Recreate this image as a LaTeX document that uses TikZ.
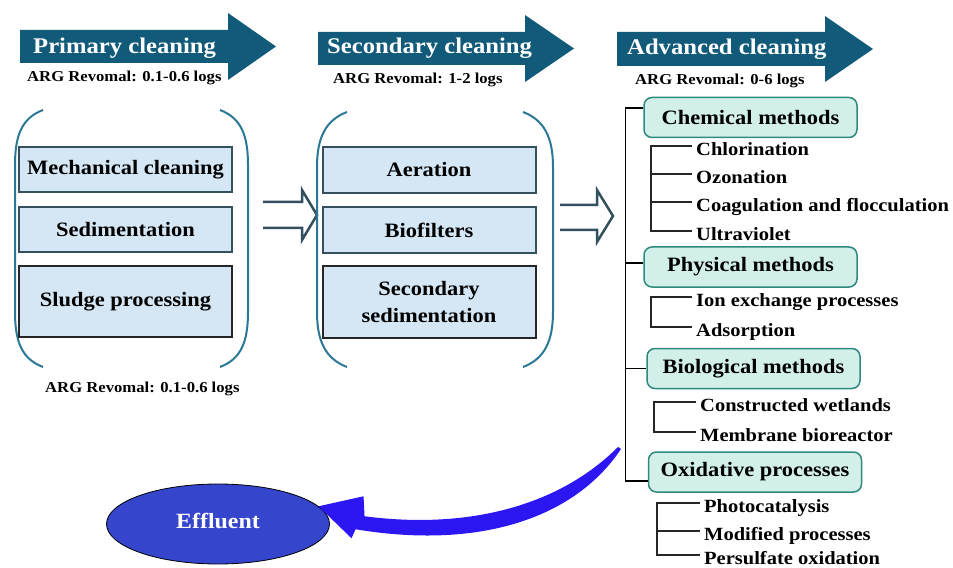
\documentclass[tikz,border=0pt]{standalone}
\usepackage{fontspec}
\setmainfont[FakeStretch=1.1]{Liberation Serif}
\usetikzlibrary{shapes.geometric,calc}
\definecolor{hdrblue}{HTML}{115A7A}
\definecolor{braceblue}{HTML}{2B7896}
\definecolor{boxfill}{HTML}{D5E7F5}
\definecolor{boxline}{HTML}{34505F}
\definecolor{methfill}{HTML}{D2EFEA}
\definecolor{methline}{HTML}{2E8A7C}
\definecolor{efffill}{HTML}{3545CC}
\definecolor{flowblue}{HTML}{2C16F2}
\newcommand{\fsz}[2]{\fontsize{#1}{#2}\selectfont\bfseries}

\begin{document}
\begin{tikzpicture}[x=1bp,y=-1bp,
    every node/.append style={inner sep=0pt},
    hdr/.style={fill=hdrblue},
    hdrtext/.style={text=white, font=\fsz{22.5}{27}, anchor=base west},
    argtext/.style={font=\fsz{15.2}{18}, anchor=base west},
    brace/.style={draw=braceblue, line width=2bp},
    stagebox/.style={draw=boxline, fill=boxfill, line width=2bp, minimum width=213bp, font=\fsz{20.5}{27}, align=center},
    hollow/.style={draw=boxline, line width=2.5bp, line join=miter},
    method/.style={draw=methline, fill=methfill, line width=1.5bp, rounded corners=8bp, minimum width=213bp, minimum height=40bp, font=\fsz{20.5}{25}},
    item/.style={font=\fsz{18.7}{22}, anchor=west, inner xsep=4bp, text height=18.5bp, text depth=0pt},
    trunk/.style={draw=black, line width=1.1bp},
    twig/.style={draw=black!85, line width=1.7bp},
    flow/.style={fill=flowblue}]
      \useasboundingbox (0,0) rectangle (953,568);

      % stage headers
      \fill[hdr] (20,30) -- (228,30) -- (228,13) -- (276,46.5) -- (228,80) -- (228,63) -- (20,63) -- cycle;
      \fill[hdr] (318,32) -- (525,32) -- (525,15) -- (574,48.5) -- (525,82) -- (525,65) -- (318,65) -- cycle;
      \fill[hdr] (617,32) -- (825,32) -- (825,16) -- (873,49) -- (825,82) -- (825,66) -- (617,66) -- cycle;
      \node[hdrtext] (primT) at (33,54) {Primary cleaning};
      \node[hdrtext] (secT) at (327,54) {Secondary cleaning};
      \node[hdrtext] (advT) at (627,55) {Advanced cleaning};
      \node[argtext] (primARG) at (27,82) {ARG Revomal: 0.1-0.6 logs};
      \node[argtext] (secARG) at (333,84) {ARG Revomal: 1-2 logs};
      \node[argtext] (advARG) at (635,85) {ARG Revomal: 0-6 logs};

      % primary stage
      \draw[brace] (43,110) .. controls (22,118) and (15,135) .. (15,165) -- (15,312) .. controls (15,342) and (22,359) .. (43,367);
      \draw[brace] (220,110) .. controls (241,118) and (248,135) .. (248,165) -- (248,312) .. controls (248,342) and (241,359) .. (220,367);
      \node[stagebox, minimum height=45bp] (mech) at (125.5,169.5) {Mechanical cleaning};
      \node[stagebox, minimum height=45bp] (sedi) at (125.5,229.5) {Sedimentation};
      \node[stagebox, minimum height=71bp, draw=black!85] (sludge) at (125.5,301.5) {Sludge processing};
      \node[argtext] (botARG) at (45,392) {ARG Revomal: 0.1-0.6 logs};

      \draw[hollow] (263,202) -- (302,202) -- (302,190) -- (317,215) -- (302,240) -- (302,228) -- (263,228);

      % secondary stage
      \draw[brace] (347,112) .. controls (326,120) and (317,137) .. (317,167) -- (317,312) .. controls (317,342) and (326,359) .. (347,367);
      \draw[brace] (523,112) .. controls (544,120) and (553,137) .. (553,167) -- (553,312) .. controls (553,342) and (544,359) .. (523,367);
      \node[stagebox, minimum height=46bp] (aer) at (429,170) {Aeration};
      \node[stagebox, minimum height=46bp] (biof) at (429,230) {Biofilters};
      \node[stagebox, minimum height=72bp, draw=black!85] (secsed) at (429,302) {Secondary\\sedimentation};

      \draw[hollow] (560,205) -- (597,205) -- (597,190) -- (613,216) -- (597,242) -- (597,230) -- (560,230);

      % advanced stage
      \node[method] (chem) at (750.5,117.5) {Chemical methods};
      \node[method] (phys) at (750.5,267) {Physical methods};
      \node[method] (bio) at (753.5,368.5) {Biological methods};
      \node[method] (oxid) at (755,472) {Oxidative processes};
      \coordinate (trunk) at (625,0);
      \draw[trunk] ($(chem.west)+(0,-9.5)$) -- ++(-18,0) |- ($(oxid.west)+(0,9)$);
      \draw[trunk] ($(phys.west)+(0,-4)$) -- ++(-18,0);
      \draw[trunk] (bio.west) -- (bio.west -| trunk);

      \node[item] (chlor) at (692,146) {Chlorination};
      \node[item] (ozon) at (692,174) {Ozonation};
      \node[item] (coag) at (692,202) {Coagulation and flocculation};
      \node[item] (uv) at (692,231) {Ultraviolet};
      \draw[twig] (chlor.west) -- ++(-41,0) |- (uv.west);
      \draw[twig] (ozon.west) -- ++(-41,0);
      \draw[twig] (coag.west) -- ++(-41,0);

      \node[item] (ionex) at (692,297) {Ion exchange processes};
      \node[item] (adsorp) at (692,327) {Adsorption};
      \draw[twig] (ionex.west) -- ++(-41,0) |- (adsorp.west);

      \node[item] (wetl) at (696,402) {Constructed wetlands};
      \node[item] (mbr) at (696,432) {Membrane bioreactor};
      \draw[twig] (wetl.west) -- ++(-42,0) |- (mbr.west);

      \node[item] (photo) at (700,503) {Photocatalysis};
      \node[item] (modif) at (700,531) {Modified processes};
      \node[item] (persulf) at (700,555) {Persulfate oxidation};
      \draw[twig] (photo.west) -- ++(-43,0) |- (persulf.west);
      \draw[twig] (modif.west) -- ++(-43,0);

      % effluent
      \node[ellipse, draw=black, line width=0.8bp, fill=efffill, minimum width=223bp, minimum height=80bp,
            text=white, font=\fsz{21.8}{26}, text depth=0.7em] (effluent) at (218,524) {Effluent};
      \coordinate (tip) at (effluent.10);
      \fill[flow] (tip) -- ++(45,-10) -- ++(1,20) .. controls (470,530) and (560,505) .. (618,447)
            -- (621,449) .. controls (575,518) and (480,550) .. ($(tip)+(37,23)$) -- ($(tip)+(33,32)$) -- cycle;
\end{tikzpicture}
\end{document}
